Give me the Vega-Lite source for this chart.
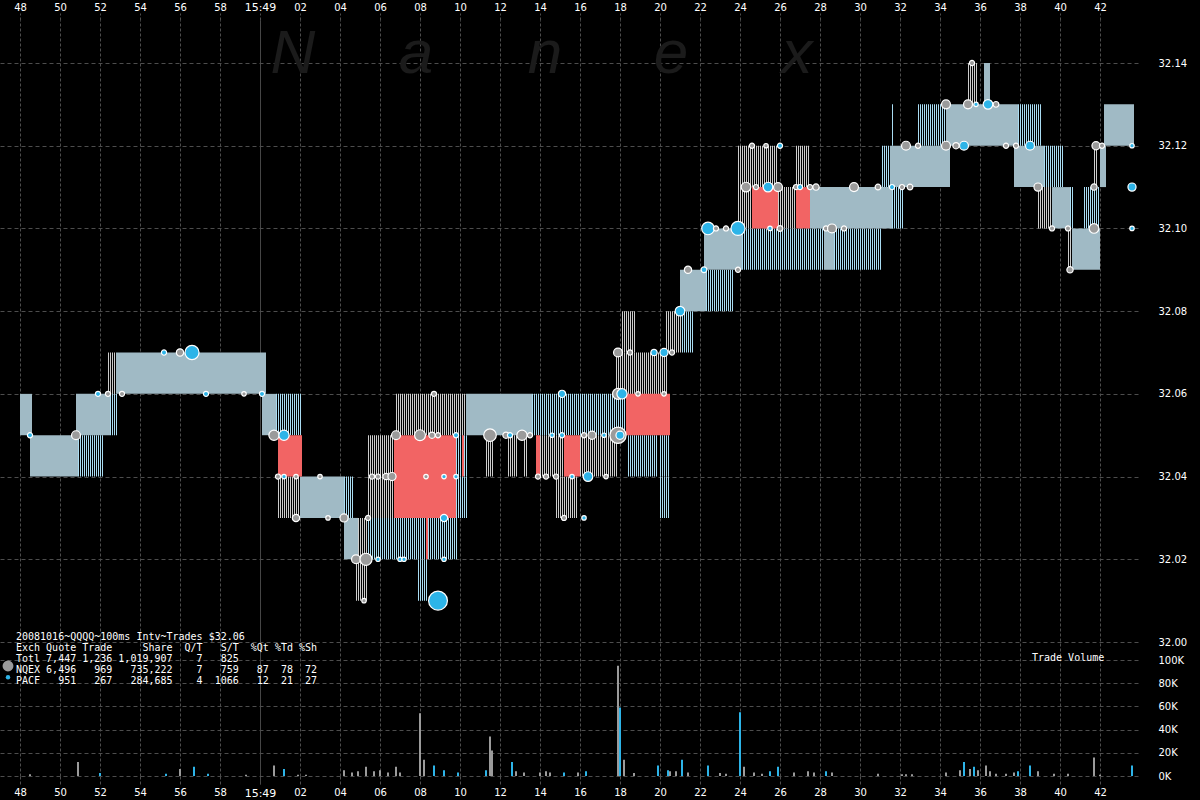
{
  "$schema": "https://vega.github.io/schema/vega-lite/v6.json",
  "width": 1138,
  "height": 756,
  "autosize": {"type": "none"},
  "padding": {"top": 20, "left": 0, "right": 62, "bottom": 24},
  "background": "#000000",
  "config": {
    "view": {"stroke": null},
    "axis": {"domain": false, "labelColor": "#ffffff", "labelFont": "DejaVu Sans", "labelFontSize": 10, "gridColor": "#4d4d4d", "gridDash": [4, 3], "tickColor": "#4d4d4d", "labelFlush": false, "labelOverlap": false}
  },
  "datasets": {
    "watermark": [
      {"letter": "N", "sec": 61.65, "p": 32.1376},
      {"letter": "a", "sec": 67.8, "p": 32.1376},
      {"letter": "n", "sec": 74.25, "p": 32.1376},
      {"letter": "e", "sec": 80.55, "p": 32.1376},
      {"letter": "x", "sec": 86.85, "p": 32.1376}
    ],
    "hatch": [
      {"s0": 50.9, "s1": 52.2, "lo": 32.04, "c": "blue"},
      {"s0": 52.5, "s1": 52.9, "lo": 32.05, "c": "blue"},
      {"s0": 52.4, "s1": 52.8, "lo": 32.06, "c": "gray"},
      {"s0": 60.8, "s1": 62.1, "lo": 32.05, "c": "blue"},
      {"s0": 60.9, "s1": 62.0, "lo": 32.03, "c": "gray"},
      {"s0": 64.2, "s1": 64.7, "lo": 32.03, "c": "blue"},
      {"s0": 64.9, "s1": 65.4, "lo": 32.02, "c": "gray"},
      {"s0": 65.4, "s1": 69.9, "lo": 32.02, "c": "blue"},
      {"s0": 64.8, "s1": 65.4, "lo": 32.01, "c": "gray"},
      {"s0": 67.9, "s1": 68.4, "lo": 32.01, "c": "blue"},
      {"s0": 65.4, "s1": 66.7, "lo": 32.03, "c": "gray"},
      {"s0": 65.4, "s1": 66.7, "lo": 32.04, "c": "gray"},
      {"s0": 69.8, "s1": 70.4, "lo": 32.03, "c": "blue"},
      {"s0": 69.8, "s1": 70.4, "lo": 32.04, "c": "blue"},
      {"s0": 66.8, "s1": 70.3, "lo": 32.05, "c": "gray"},
      {"s0": 73.6, "s1": 78.3, "lo": 32.05, "c": "blue"},
      {"s0": 71.3, "s1": 71.7, "lo": 32.04, "c": "gray"},
      {"s0": 72.4, "s1": 72.9, "lo": 32.04, "c": "gray"},
      {"s0": 73.2, "s1": 73.4, "lo": 32.04, "c": "gray"},
      {"s0": 74.0, "s1": 75.2, "lo": 32.04, "c": "gray"},
      {"s0": 76.0, "s1": 77.9, "lo": 32.04, "c": "gray"},
      {"s0": 74.8, "s1": 75.9, "lo": 32.03, "c": "gray"},
      {"s0": 78.1, "s1": 78.8, "lo": 32.07, "c": "gray"},
      {"s0": 77.8, "s1": 80.4, "lo": 32.06, "c": "gray"},
      {"s0": 80.3, "s1": 81.1, "lo": 32.07, "c": "gray"},
      {"s0": 78.4, "s1": 79.9, "lo": 32.04, "c": "blue"},
      {"s0": 80.0, "s1": 80.5, "lo": 32.03, "c": "blue"},
      {"s0": 80.0, "s1": 80.5, "lo": 32.04, "c": "blue"},
      {"s0": 82.3, "s1": 83.7, "lo": 32.08, "c": "blue"},
      {"s0": 81.1, "s1": 81.7, "lo": 32.07, "c": "blue"},
      {"s0": 84.1, "s1": 88.2, "lo": 32.09, "c": "blue"},
      {"s0": 88.7, "s1": 91.1, "lo": 32.09, "c": "blue"},
      {"s0": 83.9, "s1": 84.6, "lo": 32.10, "c": "gray"},
      {"s0": 83.9, "s1": 84.6, "lo": 32.11, "c": "gray"},
      {"s0": 84.4, "s1": 85.9, "lo": 32.11, "c": "gray"},
      {"s0": 85.9, "s1": 86.8, "lo": 32.10, "c": "gray"},
      {"s0": 86.8, "s1": 87.5, "lo": 32.11, "c": "gray"},
      {"s0": 91.6, "s1": 92.2, "lo": 32.10, "c": "blue"},
      {"s0": 91.1, "s1": 91.5, "lo": 32.11, "c": "blue"},
      {"s0": 91.6, "s1": 91.7, "lo": 32.12, "c": "blue"},
      {"s0": 92.9, "s1": 94.3, "lo": 32.12, "c": "blue"},
      {"s0": 97.9, "s1": 99.1, "lo": 32.12, "c": "blue"},
      {"s0": 95.4, "s1": 95.9, "lo": 32.13, "c": "gray"},
      {"s0": 99.2, "s1": 100.2, "lo": 32.11, "c": "blue"},
      {"s0": 98.9, "s1": 99.6, "lo": 32.10, "c": "gray"},
      {"s0": 100.5, "s1": 100.7, "lo": 32.10, "c": "blue"},
      {"s0": 100.4, "s1": 100.6, "lo": 32.09, "c": "gray"},
      {"s0": 101.2, "s1": 102.0, "lo": 32.10, "c": "blue"},
      {"s0": 101.7, "s1": 101.9, "lo": 32.11, "c": "gray"}
    ],
    "quotes": [
      {"s0": 48.0, "s1": 48.6, "lo": 32.05, "hi": 32.06, "k": "solid"},
      {"s0": 48.5, "s1": 50.9, "lo": 32.04, "hi": 32.05, "k": "solid"},
      {"s0": 50.8, "s1": 52.5, "lo": 32.05, "hi": 32.06, "k": "solid"},
      {"s0": 52.8, "s1": 60.3, "lo": 32.06, "hi": 32.07, "k": "solid"},
      {"s0": 60.1, "s1": 60.8, "lo": 32.05, "hi": 32.06, "k": "solid"},
      {"s0": 62.0, "s1": 64.2, "lo": 32.03, "hi": 32.04, "k": "solid"},
      {"s0": 64.2, "s1": 64.9, "lo": 32.02, "hi": 32.03, "k": "solid"},
      {"s0": 70.3, "s1": 73.6, "lo": 32.05, "hi": 32.06, "k": "solid"},
      {"s0": 81.0, "s1": 82.3, "lo": 32.08, "hi": 32.09, "k": "solid"},
      {"s0": 82.2, "s1": 84.1, "lo": 32.09, "hi": 32.10, "k": "solid"},
      {"s0": 88.2, "s1": 88.7, "lo": 32.09, "hi": 32.10, "k": "solid"},
      {"s0": 87.5, "s1": 91.6, "lo": 32.10, "hi": 32.11, "k": "solid"},
      {"s0": 91.5, "s1": 94.5, "lo": 32.11, "hi": 32.12, "k": "solid"},
      {"s0": 94.3, "s1": 97.9, "lo": 32.12, "hi": 32.13, "k": "solid"},
      {"s0": 96.2, "s1": 96.5, "lo": 32.13, "hi": 32.14, "k": "solid"},
      {"s0": 97.7, "s1": 99.2, "lo": 32.11, "hi": 32.12, "k": "solid"},
      {"s0": 99.6, "s1": 100.5, "lo": 32.10, "hi": 32.11, "k": "solid"},
      {"s0": 100.6, "s1": 102.0, "lo": 32.09, "hi": 32.10, "k": "solid"},
      {"s0": 102.0, "s1": 102.3, "lo": 32.11, "hi": 32.12, "k": "solid"},
      {"s0": 102.2, "s1": 103.7, "lo": 32.12, "hi": 32.13, "k": "solid"},
      {"s0": 60.9, "s1": 62.1, "lo": 32.04, "hi": 32.05, "k": "red"},
      {"s0": 66.7, "s1": 69.8, "lo": 32.03, "hi": 32.05, "k": "red"},
      {"s0": 68.3, "s1": 68.4, "lo": 32.02, "hi": 32.03, "k": "red"},
      {"s0": 70.1, "s1": 70.2, "lo": 32.04, "hi": 32.05, "k": "red"},
      {"s0": 73.8, "s1": 74.0, "lo": 32.04, "hi": 32.05, "k": "red"},
      {"s0": 75.2, "s1": 76.0, "lo": 32.04, "hi": 32.05, "k": "red"},
      {"s0": 78.3, "s1": 80.5, "lo": 32.05, "hi": 32.06, "k": "red"},
      {"s0": 84.6, "s1": 85.9, "lo": 32.10, "hi": 32.11, "k": "red"},
      {"s0": 86.8, "s1": 87.5, "lo": 32.10, "hi": 32.11, "k": "red"}
    ],
    "trades": [
      {"sec": 48.5, "p": 32.05, "exch": "PACF", "s": 200},
      {"sec": 50.8, "p": 32.05, "exch": "NQEX", "s": 600},
      {"sec": 51.9, "p": 32.06, "exch": "PACF", "s": 200},
      {"sec": 52.4, "p": 32.06, "exch": "NQEX", "s": 200},
      {"sec": 53.1, "p": 32.06, "exch": "NQEX", "s": 200},
      {"sec": 55.2, "p": 32.07, "exch": "PACF", "s": 200},
      {"sec": 56.0, "p": 32.07, "exch": "NQEX", "s": 400},
      {"sec": 56.6, "p": 32.07, "exch": "PACF", "s": 1500},
      {"sec": 57.3, "p": 32.06, "exch": "PACF", "s": 200},
      {"sec": 59.2, "p": 32.06, "exch": "NQEX", "s": 150},
      {"sec": 60.1, "p": 32.06, "exch": "PACF", "s": 200},
      {"sec": 60.7, "p": 32.05, "exch": "NQEX", "s": 800},
      {"sec": 61.2, "p": 32.05, "exch": "PACF", "s": 800},
      {"sec": 60.9, "p": 32.04, "exch": "NQEX", "s": 200},
      {"sec": 61.2, "p": 32.04, "exch": "PACF", "s": 150},
      {"sec": 61.8, "p": 32.04, "exch": "NQEX", "s": 150},
      {"sec": 63.0, "p": 32.04, "exch": "NQEX", "s": 150},
      {"sec": 61.8, "p": 32.03, "exch": "NQEX", "s": 400},
      {"sec": 63.4, "p": 32.03, "exch": "NQEX", "s": 150},
      {"sec": 64.2, "p": 32.03, "exch": "NQEX", "s": 500},
      {"sec": 65.4, "p": 32.03, "exch": "NQEX", "s": 200},
      {"sec": 64.8, "p": 32.02, "exch": "NQEX", "s": 600},
      {"sec": 65.3, "p": 32.02, "exch": "NQEX", "s": 1100},
      {"sec": 65.9, "p": 32.02, "exch": "PACF", "s": 150},
      {"sec": 65.2, "p": 32.01, "exch": "NQEX", "s": 150},
      {"sec": 65.6, "p": 32.04, "exch": "NQEX", "s": 200},
      {"sec": 65.9, "p": 32.04, "exch": "NQEX", "s": 200},
      {"sec": 66.3, "p": 32.04, "exch": "NQEX", "s": 300},
      {"sec": 66.6, "p": 32.04, "exch": "NQEX", "s": 500},
      {"sec": 66.8, "p": 32.05, "exch": "NQEX", "s": 600},
      {"sec": 68.0, "p": 32.05, "exch": "NQEX", "s": 900},
      {"sec": 68.6, "p": 32.05, "exch": "NQEX", "s": 300},
      {"sec": 68.9, "p": 32.05, "exch": "NQEX", "s": 200},
      {"sec": 69.8, "p": 32.05, "exch": "PACF", "s": 200},
      {"sec": 68.7, "p": 32.06, "exch": "NQEX", "s": 200},
      {"sec": 68.3, "p": 32.04, "exch": "NQEX", "s": 150},
      {"sec": 69.2, "p": 32.04, "exch": "PACF", "s": 150},
      {"sec": 69.8, "p": 32.04, "exch": "PACF", "s": 150},
      {"sec": 69.2, "p": 32.03, "exch": "PACF", "s": 400},
      {"sec": 67.0, "p": 32.02, "exch": "PACF", "s": 150},
      {"sec": 67.2, "p": 32.02, "exch": "PACF", "s": 150},
      {"sec": 69.2, "p": 32.02, "exch": "PACF", "s": 150},
      {"sec": 68.9, "p": 32.01, "exch": "PACF", "s": 2700},
      {"sec": 71.5, "p": 32.05, "exch": "NQEX", "s": 1200},
      {"sec": 72.3, "p": 32.05, "exch": "NQEX", "s": 300},
      {"sec": 72.5, "p": 32.05, "exch": "PACF", "s": 200},
      {"sec": 73.1, "p": 32.05, "exch": "NQEX", "s": 800},
      {"sec": 73.5, "p": 32.05, "exch": "NQEX", "s": 200},
      {"sec": 74.6, "p": 32.05, "exch": "PACF", "s": 150},
      {"sec": 75.1, "p": 32.05, "exch": "PACF", "s": 200},
      {"sec": 75.1, "p": 32.06, "exch": "PACF", "s": 400},
      {"sec": 76.2, "p": 32.05, "exch": "NQEX", "s": 200},
      {"sec": 76.6, "p": 32.05, "exch": "NQEX", "s": 500},
      {"sec": 77.2, "p": 32.05, "exch": "PACF", "s": 150},
      {"sec": 77.9, "p": 32.05, "exch": "NQEX", "s": 2000},
      {"sec": 78.0, "p": 32.05, "exch": "PACF", "s": 500},
      {"sec": 73.9, "p": 32.04, "exch": "NQEX", "s": 200},
      {"sec": 74.3, "p": 32.04, "exch": "NQEX", "s": 200},
      {"sec": 74.8, "p": 32.04, "exch": "NQEX", "s": 200},
      {"sec": 75.6, "p": 32.04, "exch": "PACF", "s": 150},
      {"sec": 76.4, "p": 32.04, "exch": "PACF", "s": 700},
      {"sec": 77.3, "p": 32.04, "exch": "NQEX", "s": 150},
      {"sec": 75.2, "p": 32.03, "exch": "NQEX", "s": 200},
      {"sec": 76.2, "p": 32.03, "exch": "PACF", "s": 150},
      {"sec": 77.9, "p": 32.07, "exch": "NQEX", "s": 600},
      {"sec": 78.5, "p": 32.07, "exch": "NQEX", "s": 200},
      {"sec": 79.7, "p": 32.07, "exch": "PACF", "s": 300},
      {"sec": 80.2, "p": 32.07, "exch": "PACF", "s": 500},
      {"sec": 80.6, "p": 32.07, "exch": "NQEX", "s": 200},
      {"sec": 77.9, "p": 32.06, "exch": "NQEX", "s": 900},
      {"sec": 78.1, "p": 32.06, "exch": "PACF", "s": 800},
      {"sec": 78.9, "p": 32.06, "exch": "NQEX", "s": 150},
      {"sec": 80.2, "p": 32.06, "exch": "NQEX", "s": 150},
      {"sec": 81.0, "p": 32.08, "exch": "PACF", "s": 700},
      {"sec": 81.4, "p": 32.09, "exch": "NQEX", "s": 400},
      {"sec": 82.2, "p": 32.09, "exch": "PACF", "s": 250},
      {"sec": 83.9, "p": 32.09, "exch": "NQEX", "s": 200},
      {"sec": 82.4, "p": 32.10, "exch": "PACF", "s": 1200},
      {"sec": 82.8, "p": 32.10, "exch": "NQEX", "s": 200},
      {"sec": 83.3, "p": 32.10, "exch": "NQEX", "s": 200},
      {"sec": 83.9, "p": 32.10, "exch": "PACF", "s": 1500},
      {"sec": 85.5, "p": 32.10, "exch": "PACF", "s": 150},
      {"sec": 86.0, "p": 32.10, "exch": "NQEX", "s": 250},
      {"sec": 88.3, "p": 32.10, "exch": "NQEX", "s": 200},
      {"sec": 88.6, "p": 32.10, "exch": "NQEX", "s": 600},
      {"sec": 89.2, "p": 32.10, "exch": "NQEX", "s": 200},
      {"sec": 84.3, "p": 32.11, "exch": "NQEX", "s": 700},
      {"sec": 84.8, "p": 32.11, "exch": "NQEX", "s": 200},
      {"sec": 85.4, "p": 32.11, "exch": "PACF", "s": 700},
      {"sec": 85.9, "p": 32.11, "exch": "NQEX", "s": 600},
      {"sec": 86.8, "p": 32.11, "exch": "NQEX", "s": 200},
      {"sec": 87.0, "p": 32.11, "exch": "PACF", "s": 200},
      {"sec": 87.5, "p": 32.11, "exch": "NQEX", "s": 200},
      {"sec": 87.8, "p": 32.11, "exch": "NQEX", "s": 300},
      {"sec": 89.7, "p": 32.11, "exch": "NQEX", "s": 600},
      {"sec": 90.9, "p": 32.11, "exch": "NQEX", "s": 250},
      {"sec": 91.6, "p": 32.11, "exch": "PACF", "s": 200},
      {"sec": 92.1, "p": 32.11, "exch": "NQEX", "s": 200},
      {"sec": 92.5, "p": 32.11, "exch": "NQEX", "s": 250},
      {"sec": 84.6, "p": 32.12, "exch": "NQEX", "s": 200},
      {"sec": 85.3, "p": 32.12, "exch": "NQEX", "s": 150},
      {"sec": 86.0, "p": 32.12, "exch": "PACF", "s": 200},
      {"sec": 92.3, "p": 32.12, "exch": "NQEX", "s": 600},
      {"sec": 92.9, "p": 32.12, "exch": "NQEX", "s": 200},
      {"sec": 94.3, "p": 32.12, "exch": "NQEX", "s": 600},
      {"sec": 94.8, "p": 32.12, "exch": "NQEX", "s": 300},
      {"sec": 95.2, "p": 32.12, "exch": "PACF", "s": 600},
      {"sec": 94.3, "p": 32.13, "exch": "NQEX", "s": 600},
      {"sec": 95.4, "p": 32.13, "exch": "NQEX", "s": 600},
      {"sec": 95.8, "p": 32.13, "exch": "PACF", "s": 150},
      {"sec": 96.4, "p": 32.13, "exch": "PACF", "s": 700},
      {"sec": 96.8, "p": 32.13, "exch": "NQEX", "s": 250},
      {"sec": 95.6, "p": 32.14, "exch": "NQEX", "s": 200},
      {"sec": 97.3, "p": 32.12, "exch": "NQEX", "s": 200},
      {"sec": 97.8, "p": 32.12, "exch": "NQEX", "s": 200},
      {"sec": 98.5, "p": 32.12, "exch": "PACF", "s": 600},
      {"sec": 98.9, "p": 32.11, "exch": "NQEX", "s": 500},
      {"sec": 99.6, "p": 32.10, "exch": "NQEX", "s": 200},
      {"sec": 100.4, "p": 32.10, "exch": "NQEX", "s": 200},
      {"sec": 100.5, "p": 32.09, "exch": "NQEX", "s": 300},
      {"sec": 101.7, "p": 32.10, "exch": "NQEX", "s": 700},
      {"sec": 101.8, "p": 32.12, "exch": "NQEX", "s": 500},
      {"sec": 102.1, "p": 32.12, "exch": "NQEX", "s": 200},
      {"sec": 101.7, "p": 32.11, "exch": "NQEX", "s": 300},
      {"sec": 103.6, "p": 32.12, "exch": "PACF", "s": 150},
      {"sec": 103.6, "p": 32.11, "exch": "PACF", "s": 500},
      {"sec": 103.6, "p": 32.10, "exch": "PACF", "s": 150}
    ],
    "keydots": [
      {"sec": 47.4, "p": 31.9942, "exch": "NQEX", "s": 900},
      {"sec": 47.4, "p": 31.9915, "exch": "PACF", "s": 150}
    ],
    "notes": [
      {"sec": 47.8, "p": 32.0025, "txt": "20081016~QQQQ~100ms Intv~Trades $32.06\nExch\u00a0Quote\u00a0Trade\u00a0\u00a0\u00a0\u00a0\u00a0Share\u00a0\u00a0Q/T\u00a0\u00a0\u00a0S/T\u00a0\u00a0%Qt\u00a0%Td\u00a0%Sh\nTotl\u00a07,447\u00a01,236\u00a01,019,907\u00a0\u00a0\u00a0\u00a07\u00a0\u00a0\u00a0825\nNQEX\u00a06,496\u00a0\u00a0\u00a0969\u00a0\u00a0\u00a0735,222\u00a0\u00a0\u00a0\u00a07\u00a0\u00a0\u00a0759\u00a0\u00a0\u00a087\u00a0\u00a078\u00a0\u00a072\nPACF\u00a0\u00a0\u00a0951\u00a0\u00a0\u00a0267\u00a0\u00a0\u00a0284,685\u00a0\u00a0\u00a0\u00a04\u00a0\u00a01066\u00a0\u00a0\u00a012\u00a0\u00a021\u00a0\u00a027"},
      {"sec": 98.6, "p": 31.9974, "txt": "Trade Volume"}
    ],
    "volume": [
      {"sec": 48.5, "v": 1500, "exch": "NQEX"},
      {"sec": 50.9, "v": 12000, "exch": "NQEX"},
      {"sec": 52.0, "v": 2500, "exch": "PACF"},
      {"sec": 55.3, "v": 2000, "exch": "PACF"},
      {"sec": 56.0, "v": 6000, "exch": "NQEX"},
      {"sec": 56.7, "v": 8000, "exch": "PACF"},
      {"sec": 57.4, "v": 2000, "exch": "PACF"},
      {"sec": 59.3, "v": 1000, "exch": "NQEX"},
      {"sec": 60.7, "v": 9000, "exch": "NQEX"},
      {"sec": 61.2, "v": 6000, "exch": "PACF"},
      {"sec": 61.9, "v": 1000, "exch": "NQEX"},
      {"sec": 62.3, "v": 1000, "exch": "NQEX"},
      {"sec": 64.2, "v": 5000, "exch": "NQEX"},
      {"sec": 64.6, "v": 3000, "exch": "NQEX"},
      {"sec": 64.9, "v": 4000, "exch": "NQEX"},
      {"sec": 65.3, "v": 8000, "exch": "NQEX"},
      {"sec": 65.7, "v": 4000, "exch": "NQEX"},
      {"sec": 66.0, "v": 5000, "exch": "NQEX"},
      {"sec": 66.4, "v": 3000, "exch": "NQEX"},
      {"sec": 66.8, "v": 8000, "exch": "NQEX"},
      {"sec": 67.0, "v": 3000, "exch": "NQEX"},
      {"sec": 68.0, "v": 54000, "exch": "NQEX"},
      {"sec": 68.2, "v": 14000, "exch": "NQEX"},
      {"sec": 68.7, "v": 9000, "exch": "PACF"},
      {"sec": 69.2, "v": 5000, "exch": "PACF"},
      {"sec": 69.9, "v": 3000, "exch": "PACF"},
      {"sec": 71.3, "v": 5000, "exch": "PACF"},
      {"sec": 71.5, "v": 34000, "exch": "NQEX"},
      {"sec": 71.6, "v": 22000, "exch": "NQEX"},
      {"sec": 72.6, "v": 12000, "exch": "PACF"},
      {"sec": 72.8, "v": 4000, "exch": "NQEX"},
      {"sec": 73.2, "v": 3000, "exch": "NQEX"},
      {"sec": 74.0, "v": 3000, "exch": "NQEX"},
      {"sec": 74.3, "v": 4000, "exch": "NQEX"},
      {"sec": 74.5, "v": 3000, "exch": "NQEX"},
      {"sec": 75.2, "v": 3000, "exch": "PACF"},
      {"sec": 75.9, "v": 3000, "exch": "NQEX"},
      {"sec": 76.3, "v": 4000, "exch": "PACF"},
      {"sec": 77.9, "v": 95000, "exch": "NQEX"},
      {"sec": 78.0, "v": 59000, "exch": "PACF"},
      {"sec": 78.2, "v": 14000, "exch": "NQEX"},
      {"sec": 78.7, "v": 2500, "exch": "NQEX"},
      {"sec": 79.9, "v": 9000, "exch": "PACF"},
      {"sec": 80.4, "v": 5000, "exch": "PACF"},
      {"sec": 80.5, "v": 4000, "exch": "NQEX"},
      {"sec": 80.8, "v": 4000, "exch": "NQEX"},
      {"sec": 81.1, "v": 14000, "exch": "PACF"},
      {"sec": 81.4, "v": 3000, "exch": "NQEX"},
      {"sec": 82.4, "v": 9000, "exch": "PACF"},
      {"sec": 83.0, "v": 2500, "exch": "NQEX"},
      {"sec": 83.3, "v": 2000, "exch": "NQEX"},
      {"sec": 84.0, "v": 55000, "exch": "PACF"},
      {"sec": 84.2, "v": 8000, "exch": "NQEX"},
      {"sec": 84.7, "v": 3000, "exch": "NQEX"},
      {"sec": 85.1, "v": 2000, "exch": "NQEX"},
      {"sec": 85.5, "v": 4000, "exch": "PACF"},
      {"sec": 85.9, "v": 8000, "exch": "PACF"},
      {"sec": 86.7, "v": 3000, "exch": "NQEX"},
      {"sec": 87.4, "v": 4000, "exch": "NQEX"},
      {"sec": 87.7, "v": 3000, "exch": "NQEX"},
      {"sec": 88.3, "v": 4000, "exch": "PACF"},
      {"sec": 88.6, "v": 3000, "exch": "NQEX"},
      {"sec": 90.9, "v": 2000, "exch": "NQEX"},
      {"sec": 92.1, "v": 1500, "exch": "NQEX"},
      {"sec": 92.3, "v": 1500, "exch": "NQEX"},
      {"sec": 92.6, "v": 1500, "exch": "NQEX"},
      {"sec": 94.3, "v": 3000, "exch": "NQEX"},
      {"sec": 95.0, "v": 5000, "exch": "NQEX"},
      {"sec": 95.2, "v": 12000, "exch": "PACF"},
      {"sec": 95.5, "v": 6000, "exch": "NQEX"},
      {"sec": 95.7, "v": 8000, "exch": "PACF"},
      {"sec": 95.9, "v": 5000, "exch": "NQEX"},
      {"sec": 96.3, "v": 9000, "exch": "NQEX"},
      {"sec": 96.5, "v": 4000, "exch": "NQEX"},
      {"sec": 96.8, "v": 2000, "exch": "NQEX"},
      {"sec": 97.3, "v": 2000, "exch": "NQEX"},
      {"sec": 97.7, "v": 3000, "exch": "NQEX"},
      {"sec": 97.9, "v": 4000, "exch": "PACF"},
      {"sec": 98.5, "v": 9000, "exch": "PACF"},
      {"sec": 98.9, "v": 4000, "exch": "NQEX"},
      {"sec": 99.7, "v": 2000, "exch": "NQEX"},
      {"sec": 100.4, "v": 2000, "exch": "NQEX"},
      {"sec": 101.7, "v": 16000, "exch": "NQEX"},
      {"sec": 102.0, "v": 1000, "exch": "NQEX"},
      {"sec": 103.6, "v": 9000, "exch": "PACF"}
    ]
  },
  "resolve": {"scale": {"y": "independent"}, "axis": {"x": "independent"}},
  "layer": [
    {
      "layer": [
        {
          "data": {"name": "watermark"},
          "mark": {"type": "text", "font": "Liberation Sans", "fontStyle": "italic", "fontSize": 62, "color": "#1b1b1b", "align": "center", "baseline": "alphabetic"},
          "encoding": {
            "x": {"field": "sec", "type": "quantitative", "scale": {"domain": [47, 103.9], "nice": false, "zero": false},
              "axis": {"orient": "top", "title": null, "values": [48, 50, 52, 54, 56, 58, 60, 62, 64, 66, 68, 70, 72, 74, 76, 78, 80, 82, 84, 86, 88, 90, 92, 94, 96, 98, 100, 102],
                "labelExpr": "datum.value == 60 ? '15:49' : format(datum.value % 60, '02d')",
                "labelFontSize": {"condition": {"test": "datum.value == 60", "value": 11}, "value": 10},
                "grid": true,
                "gridDash": {"condition": {"test": "datum.value == 60", "value": [1, 0]}, "value": [3, 2]},
                "gridColor": {"condition": {"test": "datum.value == 60", "value": "#5e5e5e"}, "value": "#4d4d4d"},
                "ticks": true, "tickSize": 7, "tickDash": [3, 2], "labelPadding": 1}},
            "y": {"field": "p", "type": "quantitative", "scale": {"domain": [31.9676, 32.1504], "nice": false, "zero": false},
              "axis": {"orient": "right", "title": null, "values": [32, 32.02, 32.04, 32.06, 32.08, 32.1, 32.12, 32.14], "format": ".2f", "grid": true, "ticks": false, "tickSize": 0, "labelPadding": 3, "offset": 17}},
            "text": {"field": "letter"}
          }
        },
        {
          "data": {"name": "hatch"},
          "transform": [{"filter": "datum.c == 'gray'"}],
          "mark": {"type": "rule", "strokeWidth": 41.4, "strokeDash": [1, 1], "strokeCap": "butt", "yOffset": -20.68, "color": "#cccccc"},
          "encoding": {
            "x": {"field": "s0", "type": "quantitative"},
            "x2": {"field": "s1"},
            "y": {"field": "lo", "type": "quantitative"}
          }
        },
        {
          "data": {"name": "hatch"},
          "transform": [{"filter": "datum.c == 'blue'"}],
          "mark": {"type": "rule", "strokeWidth": 41.4, "strokeDash": [1, 1], "strokeCap": "butt", "yOffset": -20.68, "color": "#a9dcf2"},
          "encoding": {
            "x": {"field": "s0", "type": "quantitative"},
            "x2": {"field": "s1"},
            "y": {"field": "lo", "type": "quantitative"}
          }
        },
        {
          "data": {"name": "quotes"},
          "transform": [{"filter": "datum.k == 'solid'"}],
          "mark": {"type": "rect", "color": "#a0bac5"},
          "encoding": {
            "x": {"field": "s0", "type": "quantitative"},
            "x2": {"field": "s1"},
            "y": {"field": "lo", "type": "quantitative"},
            "y2": {"field": "hi"}
          }
        },
        {
          "data": {"name": "quotes"},
          "transform": [{"filter": "datum.k == 'red'"}],
          "mark": {"type": "rect", "color": "#f26464"},
          "encoding": {
            "x": {"field": "s0", "type": "quantitative"},
            "x2": {"field": "s1"},
            "y": {"field": "lo", "type": "quantitative"},
            "y2": {"field": "hi"}
          }
        },
        {
          "data": {"name": "trades"},
          "mark": {"type": "circle", "opacity": 1, "stroke": "#ffffff", "strokeWidth": 1.2},
          "encoding": {
            "x": {"field": "sec", "type": "quantitative"},
            "y": {"field": "p", "type": "quantitative"},
            "color": {"field": "exch", "type": "nominal", "scale": {"domain": ["NQEX", "PACF"], "range": ["#9b9b9b", "#2db4e8"]}, "legend": null},
            "size": {"field": "s", "type": "quantitative", "scale": {"domain": [0, 2500], "range": [0, 330]}, "legend": null}
          }
        },
        {
          "data": {"name": "keydots"},
          "mark": {"type": "circle", "opacity": 1},
          "encoding": {
            "x": {"field": "sec", "type": "quantitative"},
            "y": {"field": "p", "type": "quantitative"},
            "color": {"field": "exch", "type": "nominal", "legend": null},
            "size": {"field": "s", "type": "quantitative", "legend": null}
          }
        },
        {
          "data": {"name": "notes"},
          "mark": {"type": "text", "font": "DejaVu Sans Mono", "fontSize": 10, "lineHeight": 11, "align": "left", "baseline": "top", "color": "#ffffff", "lineBreak": "\n"},
          "encoding": {
            "x": {"field": "sec", "type": "quantitative"},
            "y": {"field": "p", "type": "quantitative"},
            "text": {"field": "txt"}
          }
        }
      ]
    },
    {
      "layer": [
        {
          "data": {"name": "volume"},
          "mark": {"type": "rule", "strokeWidth": 2},
          "encoding": {
            "x": {"field": "sec", "type": "quantitative",
              "axis": {"orient": "bottom", "title": null, "values": [48, 50, 52, 54, 56, 58, 60, 62, 64, 66, 68, 70, 72, 74, 76, 78, 80, 82, 84, 86, 88, 90, 92, 94, 96, 98, 100, 102],
                "labelExpr": "datum.value == 60 ? '15:49' : format(datum.value % 60, '02d')",
                "labelFontSize": {"condition": {"test": "datum.value == 60", "value": 11}, "value": 10},
                "grid": false,
                "tickDash": {"condition": {"test": "datum.value == 60", "value": [1, 0]}, "value": [3, 2]},
                "tickColor": {"condition": {"test": "datum.value == 60", "value": "#5e5e5e"}, "value": "#4d4d4d"},
                "ticks": true, "tickSize": 8, "labelPadding": 3}},
            "y": {"field": "v", "type": "quantitative", "scale": {"domain": [0, 651724], "nice": false, "zero": true},
              "axis": {"orient": "right", "title": null, "values": [0, 20000, 40000, 60000, 80000, 100000], "labelExpr": "format(datum.value / 1000, 'd') + 'K'", "grid": true, "ticks": false, "tickSize": 0, "labelPadding": 3, "offset": 17}},
            "y2": {"datum": 0},
            "color": {"field": "exch", "type": "nominal", "legend": null}
          }
        }
      ]
    }
  ]
}
